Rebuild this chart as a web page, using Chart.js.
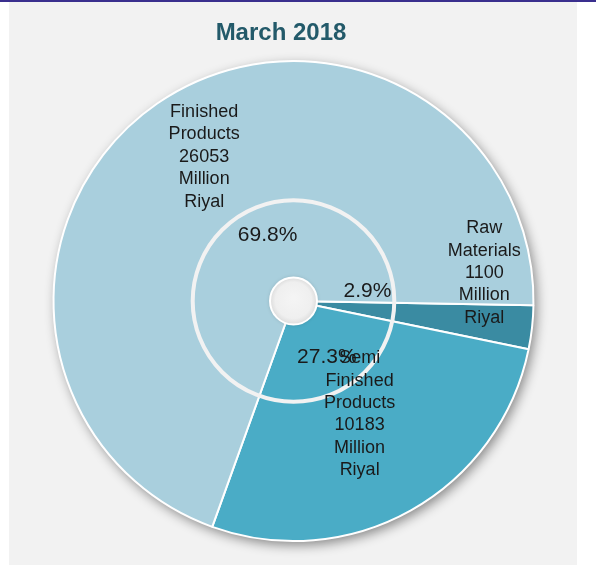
<!DOCTYPE html>
<html>
<head>
<meta charset="utf-8">
<script src="https://cdn.jsdelivr.net/npm/chart.js@4"></script>
<style>
  html, body { margin: 0; padding: 0; background: #ffffff; width: 596px; height: 565px; overflow: hidden; }
  #topline { position: absolute; left: 0; top: 0; width: 596px; height: 2px; background: #3a2f8e; }
  #panel { position: absolute; left: 9px; top: 2px; width: 568px; height: 563px; background: #f2f2f2; }
  #wrap { position: absolute; left: 0; top: 0; width: 596px; height: 565px; }
</style>
</head>
<body>
<div id="topline"></div>
<div id="panel"></div>
<div id="wrap"><canvas id="c" width="596" height="565"></canvas></div>
<script>
const titleText = "March 2018";
const categories = ["Raw Materials", "Semi Finished Products", "Finished Products"];
const values = [1100, 10183, 26053];
const percentLabels = ["2.9%", "27.3%", "69.8%"];
const nameLabels = [
  ["Raw", "Materials", "1100", "Million", "Riyal"],
  ["Semi", "Finished", "Products", "10183", "Million", "Riyal"],
  ["Finished", "Products", "26053", "Million", "Riyal"]
];
const colors = ["#3a8ba2", "#4aacc6", "#a9cfdd"];

// label placement: fraction of outer radius along slice mid-angle, plus pixel nudges
const namePlace = [ {f: 0.80, dx: 0, dy: -49}, {f: 0.546, dx: 2, dy: -1}, {f: 0.707, dx: 7, dy: -4.5} ];
const pctPlace  = [ {f: 0.31, dx: 0, dy: -18}, {f: 0.275, dx: 1, dy: -1}, {f: 0.30, dx: 15, dy: -7} ];

const decor = {
  id: 'decor',
  beforeDatasetsDraw(chart) {
    const arc = chart.getDatasetMeta(0).data[0];
    if (!arc) return;
    const ctx = chart.ctx;
    ctx.save();
    ctx.shadowColor = 'rgba(0,0,0,0.45)';
    ctx.shadowBlur = 12;
    ctx.shadowOffsetX = 3;
    ctx.shadowOffsetY = 4;
    ctx.beginPath();
    ctx.arc(arc.x, arc.y, arc.outerRadius, 0, Math.PI * 2);
    ctx.fillStyle = '#ffffff';
    ctx.fill();
    ctx.restore();
  },
  afterDatasetsDraw(chart) {
    const meta = chart.getDatasetMeta(0);
    const arcs = meta.data;
    if (!arcs.length) return;
    const ctx = chart.ctx;
    const cx = arcs[0].x, cy = arcs[0].y, R = arcs[0].outerRadius;
    // inner ring
    ctx.save();
    ctx.beginPath();
    ctx.arc(cx, cy, R * 0.42, 0, Math.PI * 2);
    ctx.strokeStyle = '#f2f2f2';
    ctx.lineWidth = 4;
    ctx.stroke();
    // centre hole
    const hr = 23.5;
    ctx.shadowColor = 'rgba(0,0,0,0.2)';
    ctx.shadowBlur = 4;
    const g = ctx.createRadialGradient(cx, cy - 3, 2, cx, cy, hr);
    g.addColorStop(0, '#f4f4f4');
    g.addColorStop(0.75, '#efefef');
    g.addColorStop(1, '#dcdcdc');
    ctx.beginPath();
    ctx.arc(cx, cy, hr, 0, Math.PI * 2);
    ctx.fillStyle = g;
    ctx.fill();
    ctx.shadowColor = 'transparent';
    ctx.lineWidth = 2;
    ctx.strokeStyle = '#ffffff';
    ctx.stroke();
    ctx.restore();

    // labels
    ctx.save();
    ctx.fillStyle = '#1a1a1a';
    ctx.textAlign = 'center';
    ctx.textBaseline = 'middle';
    arcs.forEach((a, i) => {
      const mid = (a.startAngle + a.endAngle) / 2;
      const np = namePlace[i];
      const nx = cx + Math.cos(mid) * R * np.f + np.dx;
      const ny = cy + Math.sin(mid) * R * np.f + np.dy;
      const lines = nameLabels[i];
      const lh = 22.4;
      ctx.font = '18px "Liberation Sans", Arial, sans-serif';
      lines.forEach((t, k) => {
        ctx.fillText(t, nx, ny + (k - (lines.length - 1) / 2) * lh);
      });
    });
    arcs.forEach((a, i) => {
      const mid = (a.startAngle + a.endAngle) / 2;
      const pp = pctPlace[i];
      const px = cx + Math.cos(mid) * R * pp.f + pp.dx;
      const py = cy + Math.sin(mid) * R * pp.f + pp.dy;
      ctx.font = '21px "Liberation Sans", Arial, sans-serif';
      ctx.fillText(percentLabels[i], px, py);
    });
    // title
    ctx.font = 'bold 24px "Liberation Sans", Arial, sans-serif';
    ctx.fillStyle = '#235a6a';
    ctx.fillText(titleText, 281, 33);
    ctx.restore();
  }
};

new Chart(document.getElementById('c'), {
  type: 'pie',
  data: {
    labels: categories,
    datasets: [{
      data: values,
      backgroundColor: colors,
      borderColor: '#ffffff',
      borderWidth: 2,
      hoverOffset: 0
    }]
  },
  options: {
    responsive: false,
    animation: false,
    rotation: 91,
    layout: { padding: { left: 52.5, top: 60, right: 61.5, bottom: 23 } },
    plugins: {
      legend: { display: false },
      title: { display: false },
      tooltip: { enabled: false }
    }
  },
  plugins: [decor]
});
</script>
</body>
</html>
